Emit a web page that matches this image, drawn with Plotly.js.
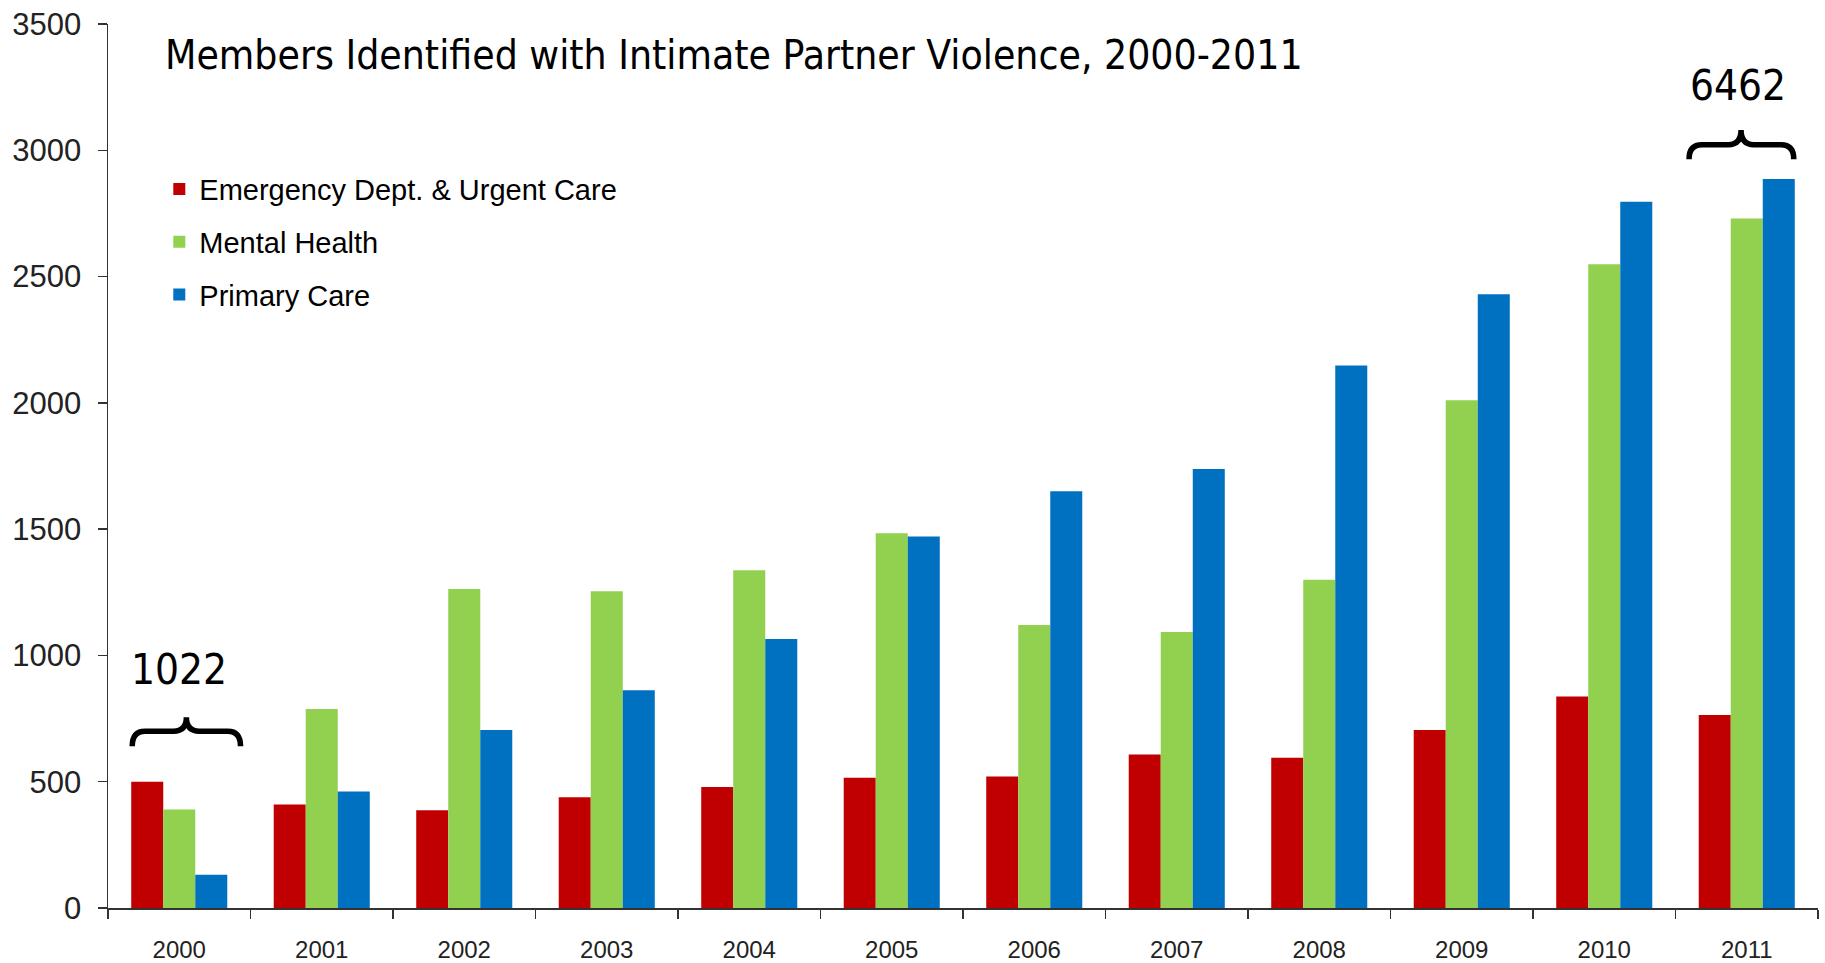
<!DOCTYPE html>
<html>
<head>
<meta charset="utf-8">
<script src="https://cdn.plot.ly/plotly-3.0.1.min.js"></script>
<style>html,body{margin:0;padding:0;background:#fff;}#chart{width:1825px;height:963px;}</style>
</head>
<body>
<div id="chart"></div>
<script>
const years = ["2000","2001","2002","2003","2004","2005","2006","2007","2008","2009","2010","2011"];
const emergency = [500, 410, 387, 438, 479, 516, 521, 608, 595, 705, 837, 764];
const mentalHealth = [390, 788, 1263, 1254, 1337, 1484, 1120, 1093, 1300, 2010, 2549, 2730];
const primaryCare = [132, 461, 705, 862, 1065, 1471, 1650, 1738, 2148, 2430, 2796, 2886];
const seriesNames = ["Emergency Dept. & Urgent Care", "Mental Health", "Primary Care"];
const seriesColors = ["#C00000", "#92D050", "#0070C0"];
const yTicks = [0, 500, 1000, 1500, 2000, 2500, 3000, 3500];
const titleText = "Members Identified with Intimate Partner Violence, 2000-2011";
const totalLabels = [{year: "2000", text: "1022"}, {year: "2011", text: "6462"}];

const seriesValues = [emergency, mentalHealth, primaryCare];
const traces = seriesValues.map((vals, i) => ({
  type: "bar",
  name: seriesNames[i],
  x: years,
  y: vals,
  legendgroup: "g" + i,
  marker: {color: seriesColors[i], line: {width: 0}},
  hoverinfo: "x+y+name"
}));

const condensed = "'Liberation Sans Narrow', 'DejaVu Sans Condensed', sans-serif";
const arial = "'Liberation Sans', Arial, sans-serif";

// brace path helper in axis units (x = category index offset, y = data units)
function bracePath(xc, left, right, peak, yEnd, yMid, yPeak, r) {
  const x0 = xc + left, x1 = xc + right, xm = xc + peak;
  return `M${x0},${yEnd} Q${x0},${yMid} ${x0 + r},${yMid} L${xm - r},${yMid} Q${xm},${yMid} ${xm},${yPeak} ` +
         `M${xm},${yPeak} Q${xm},${yMid} ${xm + r},${yMid} L${x1 - r},${yMid} Q${x1},${yMid} ${x1},${yEnd}`;
}

const shapes = [
  {type: "path", xref: "x", yref: "y", path: bracePath(0, -0.33, 0.43, 0.05, 640, 700, 755, 0.09), line: {color: "#000", width: 5.5}},
  {type: "path", xref: "x", yref: "y", path: bracePath(11, -0.405, 0.33, -0.04, 2965, 3022, 3080, 0.09), line: {color: "#000", width: 5.5}}
];

const annotations = [
  {xref: "paper", yref: "paper", x: 0.032, y: 0.965, xanchor: "left", yanchor: "middle", showarrow: false,
   text: titleText, font: {family: condensed, size: 40.5, color: "#000"}},
  {xref: "x", yref: "y", x: 0, y: 946, xanchor: "center", yanchor: "middle", showarrow: false,
   text: totalLabels[0].text, font: {family: condensed, size: 42, color: "#000"}},
  {xref: "x", yref: "y", x: 10.94, y: 3257, xanchor: "center", yanchor: "middle", showarrow: false,
   text: totalLabels[1].text, font: {family: condensed, size: 42, color: "#000"}}
];

const layout = {
  width: 1825, height: 963,
  margin: {l: 108, r: 7, t: 24, b: 55},
  paper_bgcolor: "#fff", plot_bgcolor: "#fff",
  barmode: "group", bargap: 0.326, bargroupgap: 0,
  showlegend: true,
  legend: {x: 0.030, y: 0.842, xanchor: "left", yanchor: "top", bgcolor: "rgba(0,0,0,0)",
           font: {family: arial, size: 29, color: "#000"},
           tracegroupgap: 12, traceorder: "grouped"},
  xaxis: {type: "category", showline: true, linecolor: "#333", linewidth: 1.5, ticks: "outside", tickson: "boundaries",
          ticklen: 9, tickwidth: 1.5, tickcolor: "#333", showgrid: false, zeroline: false,
          tickfont: {family: arial, size: 24, color: "#222"}, ticklabelstandoff: 20},
  yaxis: {range: [0, 3500], tickvals: yTicks, showline: true, linecolor: "#333", linewidth: 1.5, ticks: "outside",
          ticklen: 9, tickwidth: 1.5, tickcolor: "#333", showgrid: false, zeroline: false,
          tickfont: {family: arial, size: 31, color: "#222"}, ticklabelstandoff: 10},
  shapes: shapes,
  annotations: annotations
};

Plotly.newPlot("chart", traces, layout, {displayModeBar: false, staticPlot: true});
</script>
</body>
</html>
